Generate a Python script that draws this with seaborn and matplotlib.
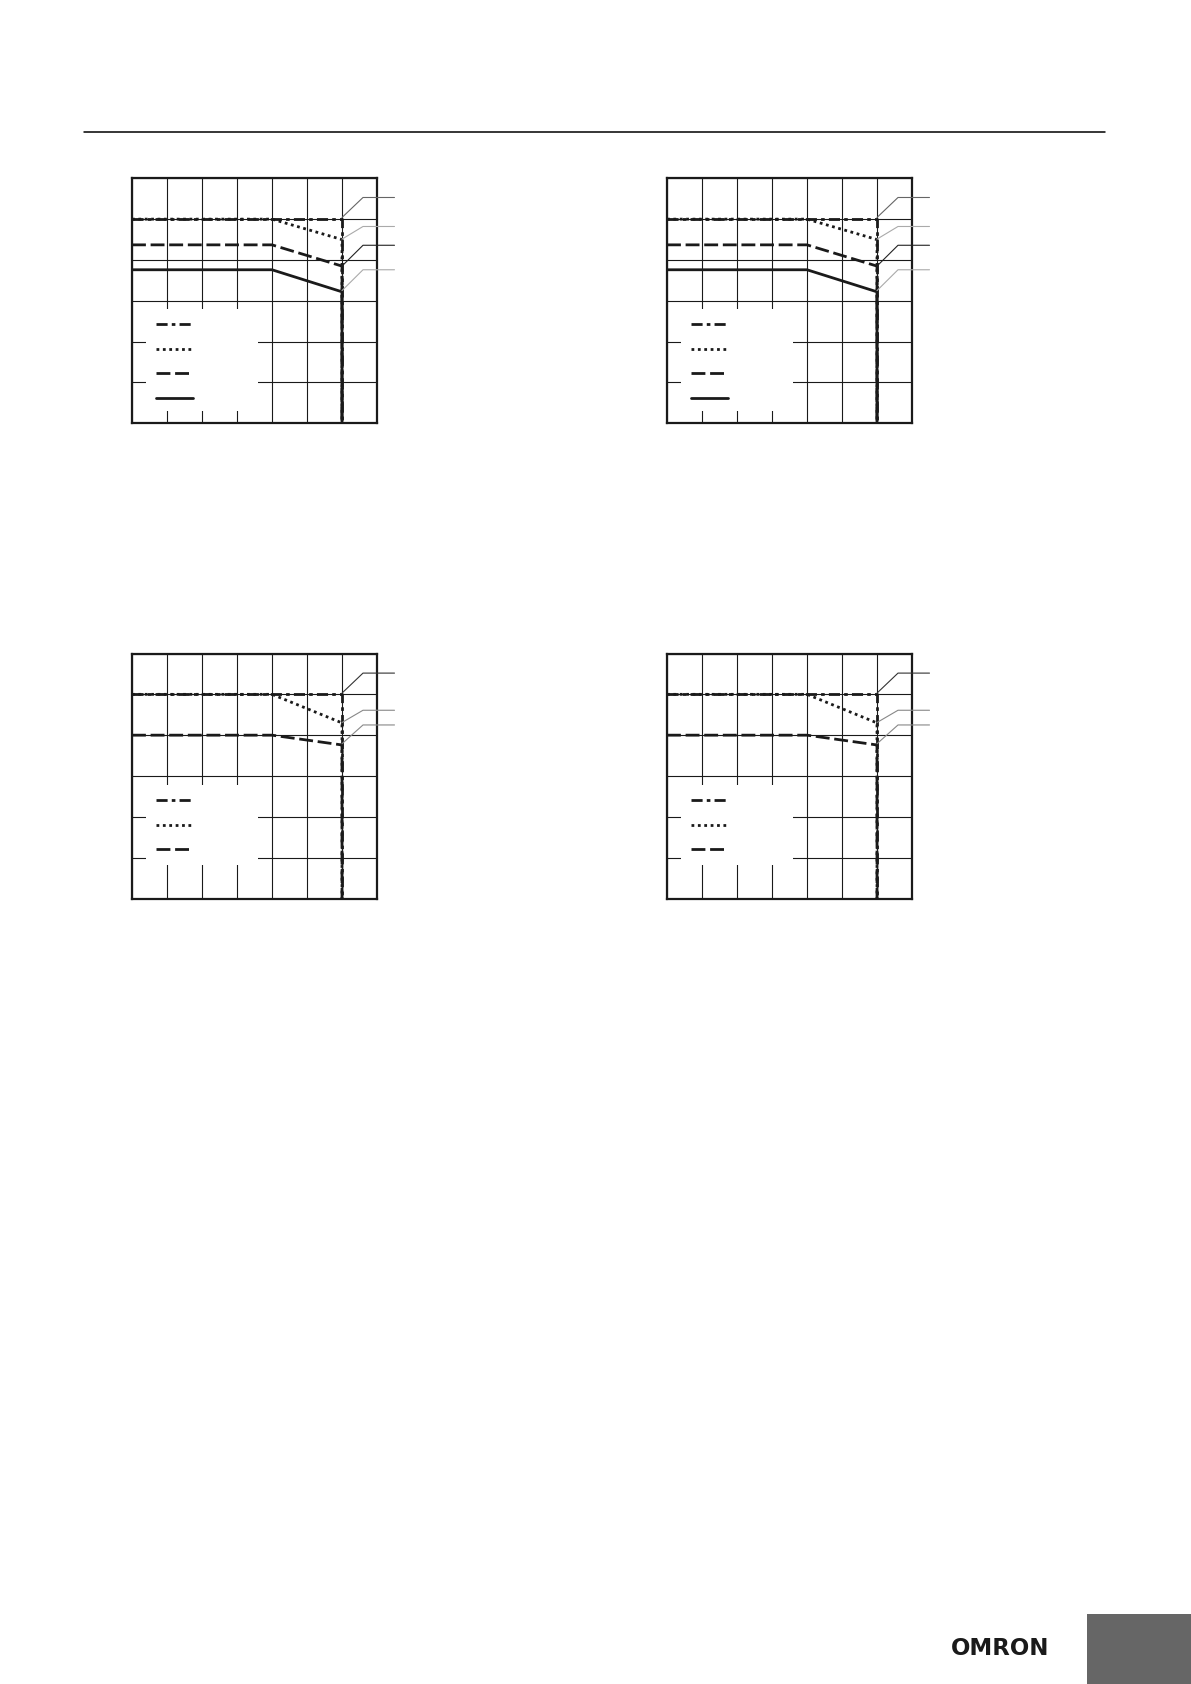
import numpy as np
import pandas as pd
import matplotlib
matplotlib.use("Agg")
import matplotlib.pyplot as plt
import seaborn as sns
from matplotlib.lines import Line2D
from matplotlib.patches import Rectangle

sns.set_theme(style="white")
plt.rcParams['font.family'] = ['DejaVu Sans']
plt.rcParams['lines.scale_dashes'] = False

# ---------------- data ----------------
x_pts = [0, 40, 60, 60]          # ambient temperature breakpoints (grid units x10)
x_ticks = list(range(0, 71, 10))
y_ticks = list(range(0, 61, 10))

top_dashdot = [50, 50, 50, 0]
top_dotted = [50, 50, 45.0, 0]
top_dashed = [43.7, 43.7, 38.5, 0]
top_solid = [37.6, 37.6, 32.2, 0]

bot_dashdot = [50, 50, 50, 0]
bot_dotted = [50, 50, 43.0, 0]
bot_dashed = [40, 40, 37.6, 0]

leader_x = [60, 66, 75]
top_leader_start = [50.4, 45.1, 38.5, 32.5]
top_leader_knee = [55.3, 48.2, 43.6, 37.6]
top_leader_colors = ['#666666', '#aaaaaa', '#222222', '#aaaaaa']
bot_leader_start = [50.3, 43.1, 37.9]
bot_leader_knee = [55.2, 46.1, 42.5]
bot_leader_colors = ['#333333', '#888888', '#888888']

dash_map = {'dashdot': (8, 3, 2.6, 3), 'dotted': (2.0, 2.6), 'dashed': (10, 3.4), 'solid': ''}
styles = {k: ((0, v) if v else '-') for k, v in dash_map.items()}
LINE_C = '#1a1a1a'
LW = 2.0

W, H = 1191, 1684
fig = plt.figure(figsize=(W / 100, H / 100), dpi=100)


def draw_chart(left_px, top_px, series, legend_order, leader_start, leader_knee,
               leader_colors, box_y):
    ax = fig.add_axes([left_px / W, 1 - (top_px + 245) / H, 245 / W, 245 / H])
    rows = []
    for name, ys in series:
        for i, (xv, yv) in enumerate(zip(x_pts, ys)):
            rows.append({'series': name, 'x': xv, 'y': yv, 'order': i})
    df = pd.DataFrame(rows)
    order = [s[0] for s in series]
    sns.lineplot(data=df, x='x', y='y', style='series', style_order=order,
                 dashes={k: dash_map[k] for k in order}, color=LINE_C, lw=LW,
                 sort=False, estimator=None, legend=False, ax=ax, zorder=3)
    ax.set_xlim(x_ticks[0], x_ticks[-1])
    ax.set_ylim(y_ticks[0], y_ticks[-1])
    ax.set_xticks(x_ticks)
    ax.set_yticks(y_ticks)
    ax.set_xticklabels([])
    ax.set_yticklabels([])
    ax.tick_params(length=0)
    ax.set_xlabel('')
    ax.set_ylabel('')
    ax.set_axisbelow(True)
    ax.grid(True, color='#1a1a1a', lw=0.8)
    for sp in ax.spines.values():
        sp.set_visible(True)
        sp.set_color('#1a1a1a')
        sp.set_linewidth(1.6)
    # legend background box
    ax.add_patch(Rectangle((3.9, box_y[0]), 32.1, box_y[1] - box_y[0],
                           facecolor='white', edgecolor='none', zorder=1))
    # legend
    handles = [Line2D([], [], color=LINE_C, lw=LW, linestyle=styles[n]) for n in legend_order]
    ax.legend(handles, [' '] * len(handles), loc='upper left',
              bbox_to_anchor=(6.9, box_y[2]), bbox_transform=ax.transData,
              frameon=False, borderpad=0, borderaxespad=0, fontsize=10,
              handlelength=2.65, handletextpad=0.2, labelspacing=0.78)
    # leader lines
    for ys, yk, c in zip(leader_start, leader_knee, leader_colors):
        ax.plot(leader_x, [ys, yk, yk], color=c, lw=0.8, clip_on=False, zorder=4)
    return ax


top_series = [('solid', top_solid), ('dashed', top_dashed), ('dotted', top_dotted), ('dashdot', top_dashdot)]
bot_series = [('dashed', bot_dashed), ('dotted', bot_dotted), ('dashdot', bot_dashdot)]

for left in (132, 667):
    draw_chart(left, 178.3, top_series, ['dashdot', 'dotted', 'dashed', 'solid'],
               top_leader_start, top_leader_knee, top_leader_colors, (3.1, 28.0, 25.9))
for left in (132, 667):
    draw_chart(left, 653.5, bot_series, ['dashdot', 'dotted', 'dashed'],
               bot_leader_start, bot_leader_knee, bot_leader_colors, (8.2, 27.8, 25.7))

# header rule
fig.add_artist(Line2D([84 / W, 1105 / W], [1 - 132.3 / H] * 2, transform=fig.transFigure,
                      color='black', lw=1.1))
# brand logo text
fig.text(1000 / W, 1 - 1648.5 / H, 'OMRON', ha='center', va='center', fontsize=16.5,
         fontweight='bold', color='#1a1a1a')
# grey corner tab
fig.add_artist(Rectangle((1087 / W, 0), (W - 1087) / W, 70 / H, transform=fig.transFigure,
                         facecolor='#666666', edgecolor='none'))

fig.savefig('out.png', dpi=100, facecolor='white')
